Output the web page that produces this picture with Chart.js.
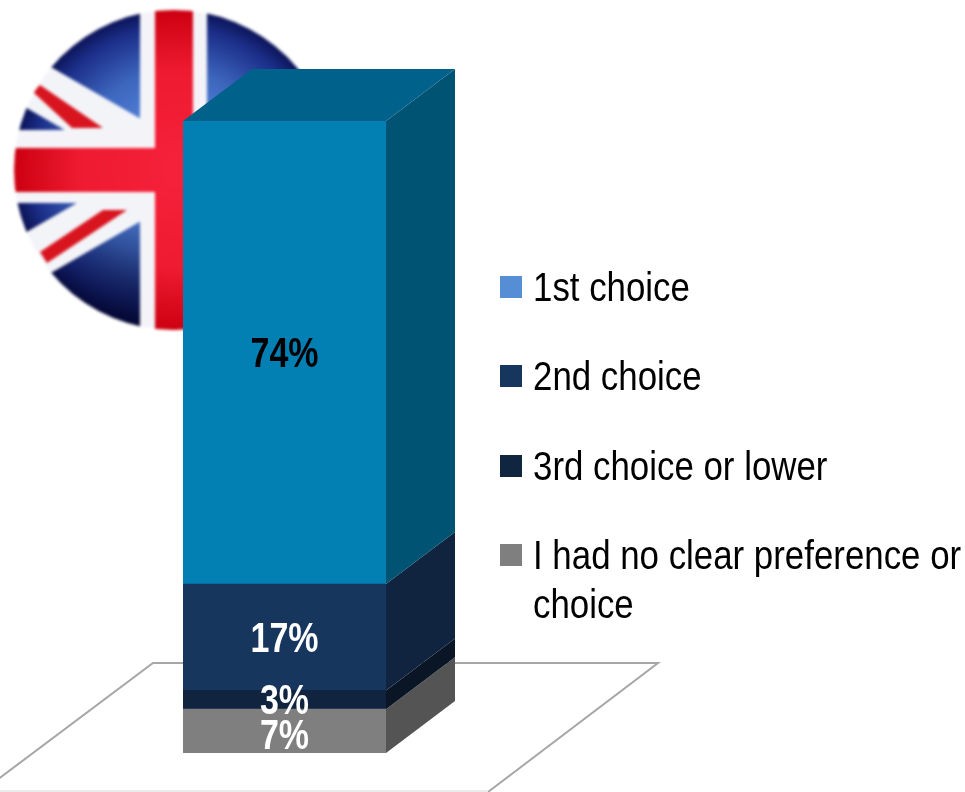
<!DOCTYPE html>
<html>
<head>
<meta charset="utf-8">
<title>Choice</title>
<script src="https://cdn.jsdelivr.net/npm/chart.js@4"></script>
<style>
    html, body { margin: 0; padding: 0; background: #fff; overflow: hidden; }
    canvas { display: block; }
</style>
</head>
<body>
<canvas id="chart" width="965" height="792"></canvas>
<script>
const categories = ['UK'];
const choices = ['1st choice', '2nd choice', '3rd choice or lower', 'I had no clear preference or choice'];
const shares = [74, 17, 3, 7];

const frontColors = ['#0380b3', '#17365d', '#11243f', '#7f7f7f'];
const sideColors = ['#005373', '#10233f', '#0a1626', '#545454'];
const topColor = '#00618a';
const legendColors = ['#558ed5', '#17365d', '#10253f', '#7f7f7f'];
const labelColors = ['#000', '#fff', '#fff', '#fff'];
const labelNudge = [3, 3, 3, 6];

const DEPTH_X = 69;
const DEPTH_Y = 52;
const FONT = '"Liberation Sans", Arial, sans-serif';

// condensed text, the font has no narrow cut at this size
function squeezedText(ctx, text, x, y, squeeze) {
    ctx.save();
    ctx.translate(x, y);
    ctx.scale(squeeze, 1);
    ctx.fillText(text, 0, 0);
    ctx.restore();
}

function poly(ctx, pts, color) {
    ctx.fillStyle = color;
    ctx.beginPath();
    pts.forEach(function (p, i) {
        if (i == 0) ctx.moveTo(p[0], p[1]); else ctx.lineTo(p[0], p[1]);
    });
    ctx.closePath();
    ctx.fill();
}

// round flag, drawn off screen so the edges can be softened as one piece
function flagCanvas(r) {
    const c = document.createElement('canvas');
    c.width = c.height = r * 2 + 20;
    const g = c.getContext('2d');
    g.translate(r + 10, r + 10);

    const blue = g.createRadialGradient(0, -10, 30, 0, 0, r);
    blue.addColorStop(0, '#5a8ae0');
    blue.addColorStop(0.5, '#3d66bd');
    blue.addColorStop(0.85, '#1c2f8a');
    blue.addColorStop(1, '#0c1458');
    g.fillStyle = blue;
    g.fillRect(-r, -r, r * 2, r * 2);

    // lower half of the blue falls off into shadow
    const shade = g.createLinearGradient(0, 40, 0, r);
    shade.addColorStop(0, 'rgba(0,0,30,0)');
    shade.addColorStop(1, 'rgba(0,0,30,0.7)');
    g.fillStyle = shade;
    g.fillRect(-r, 40, r * 2, r);

    // white diagonals, the second is the first mirrored top to bottom
    const rise = r * 0.576;
    [1, -1].forEach(function (k) {
        poly(g, [
            [-r, (-rise - 32) * k],
            [r, (rise - 32) * k],
            [r, (rise + 23) * k],
            [-r, (-rise + 23) * k]
        ], '#f3f4f8');
    });
    // thin red stripes, offset from the centre line
    poly(g, [[-141, -78], [-134, -85], [-71, -42], [-102, -42]], '#d8141f');
    poly(g, [[-134, 82], [-127, 93], [-47, 40], [-71, 40]], '#d8141f');
    poly(g, [[134, -82], [127, -93], [47, -40], [71, -40]], '#d8141f');
    poly(g, [[141, 78], [134, 85], [71, 42], [102, 42]], '#d8141f');

    // white cross with the red one on top
    g.fillStyle = '#f4f4f8';
    g.fillRect(-34, -r, 67, r * 2);
    g.fillRect(-r, -40, r * 2, 73);
    const red = g.createRadialGradient(8, 0, 10, 0, 0, r);
    red.addColorStop(0, '#f5203a');
    red.addColorStop(0.6, '#ee1a30');
    red.addColorStop(1, '#cc0010');
    g.fillStyle = red;
    g.fillRect(-19, -r, 38, r * 2);
    g.fillRect(-r, -22, r * 2, 44);

    g.globalCompositeOperation = 'destination-in';
    g.fillStyle = '#000';
    g.beginPath();
    g.arc(0, 0, r, 0, Math.PI * 2);
    g.fill();
    return c;
}

const backdrop = {
    id: 'backdrop',
    beforeDatasetsDraw(chart) {
        const ctx = chart.ctx;
        const base = chart.scales.y.getPixelForValue(0);

        // floor
        ctx.save();
        ctx.strokeStyle = '#a6a6a6';
        ctx.lineWidth = 2;
        ctx.beginPath();
        ctx.moveTo(-19, base + 39);
        ctx.lineTo(153, base - 90);
        ctx.lineTo(658, base - 90);
        ctx.lineTo(488, base + 39);
        ctx.stroke();
        ctx.strokeStyle = '#ececec';
        ctx.beginPath();
        ctx.moveTo(0, base + 38);
        ctx.lineTo(488, base + 38);
        ctx.stroke();
        ctx.restore();

        // flag
        const r = 160;
        ctx.save();
        ctx.filter = 'blur(1.5px)';
        ctx.drawImage(flagCanvas(r), 174 - r - 10, 170 - r - 10);
        ctx.restore();

        // side and top faces of the column, from the bar elements
        const count = chart.data.datasets.length;
        chart.data.datasets.forEach(function (ds, i) {
            const bar = chart.getDatasetMeta(i).data[0];
            const right = bar.x + bar.width / 2;
            const left = bar.x - bar.width / 2;
            poly(ctx, [
                [right, bar.base],
                [right + DEPTH_X, bar.base - DEPTH_Y],
                [right + DEPTH_X, bar.y - DEPTH_Y],
                [right, bar.y]
            ], ds.sideColor);
            if (i == count - 1) {
                poly(ctx, [
                    [left, bar.y],
                    [left + DEPTH_X, bar.y - DEPTH_Y],
                    [right + DEPTH_X, bar.y - DEPTH_Y],
                    [right, bar.y]
                ], topColor);
            }
        });
    }
};

const barLabels = {
    id: 'barLabels',
    afterDatasetsDraw(chart) {
        const ctx = chart.ctx;
        ctx.save();
        ctx.font = 'bold 42px ' + FONT;
        ctx.textAlign = 'center';
        ctx.textBaseline = 'middle';
        chart.data.datasets.forEach(function (ds, i) {
            const bar = chart.getDatasetMeta(i).data[0];
            ctx.fillStyle = ds.labelColor;
            squeezedText(ctx, ds.data[0] + '%', bar.x, (bar.y + bar.base) / 2 + ds.labelNudge, 0.81);
        });
        ctx.restore();
    }
};

const sideLegend = {
    id: 'sideLegend',
    afterDraw(chart) {
        const ctx = chart.ctx;
        const squeeze = 0.85;
        const maxWidth = 440;
        const rowY = [287, 376, 466, 555];
        ctx.save();
        ctx.font = '41px ' + FONT;
        ctx.textAlign = 'left';
        ctx.textBaseline = 'alphabetic';
        choices.forEach(function (name, i) {
            ctx.fillStyle = legendColors[i];
            ctx.fillRect(500, rowY[i] - 11, 22, 22);

            // wrap long entries onto a second row
            const lines = [];
            let line = '';
            name.split(' ').forEach(function (word) {
                const next = line ? line + ' ' + word : word;
                if (ctx.measureText(next).width * squeeze > maxWidth) {
                    lines.push(line);
                    line = word;
                } else {
                    line = next;
                }
            });
            lines.push(line);

            ctx.fillStyle = '#000';
            lines.forEach(function (text, n) {
                squeezedText(ctx, text, 533, rowY[i] + 14 + n * 49, squeeze);
            });
        });
        ctx.restore();
    }
};

// the first dataset stacks at the bottom, so walk the lists backwards
const datasets = shares.map(function (value, i) {
    return {
        label: choices[i],
        data: [value],
        backgroundColor: frontColors[i],
        sideColor: sideColors[i],
        labelColor: labelColors[i],
        labelNudge: labelNudge[i],
        borderWidth: 0,
        barPercentage: 1,
        categoryPercentage: 1
    };
}).reverse();

new Chart(document.getElementById('chart'), {
    type: 'bar',
    data: { labels: categories, datasets: datasets },
    plugins: [backdrop, barLabels, sideLegend],
    options: {
        responsive: false,
        animation: false,
        layout: { padding: { left: 183, right: 579, top: 121, bottom: 39 } },
        plugins: { legend: { display: false }, tooltip: { enabled: false } },
        scales: {
            x: { stacked: true, display: false },
            y: { stacked: true, display: false, min: 0, max: 101 }
        }
    }
});
</script>
</body>
</html>
